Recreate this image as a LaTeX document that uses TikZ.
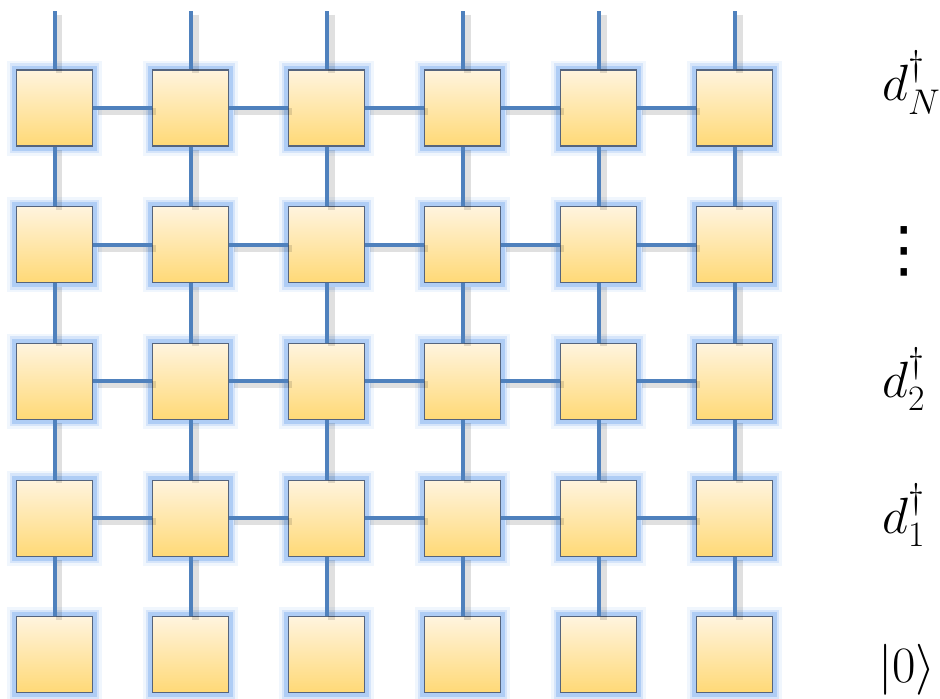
\RequirePackage{fix-cm}
\documentclass[tikz,border=0pt]{standalone}
\usepackage{amsmath,amssymb}
\usepackage{fontspec}
\newfontfamily\dotsfont{DejaVu Sans}
\usepackage{tikz}
\usetikzlibrary{positioning}
\usepackage{xcolor}
\definecolor{wireBlue}{RGB}{79,129,189}
\definecolor{glowBlue}{RGB}{135,180,240}
\definecolor{edgeGray}{RGB}{85,100,125}
\definecolor{gateTop}{RGB}{255,244,222}
\definecolor{gateBottom}{RGB}{255,217,118}

\begin{document}
\begin{tikzpicture}[
  x=0.02cm, y=-0.02cm,
  gate/.style={
    rectangle, draw=edgeGray, line width=0.6pt,
    top color=gateTop, bottom color=gateBottom,
    minimum size=1.52cm, inner sep=0pt,
    preaction={draw=glowBlue, line width=0.38cm, opacity=0.12,
      rounded corners=8pt},
    preaction={draw=glowBlue, line width=0.28cm, opacity=0.25,
      rounded corners=5pt},
    preaction={draw=glowBlue, line width=0.18cm, opacity=0.5,
      rounded corners=3pt}
  },
  wire/.style={draw=wireBlue, line width=0.08cm},
  wireshade/.style={draw=black, line width=0.14cm, opacity=0.12,
    transform canvas={shift={(0.09cm,-0.07cm)}}},
  lbl/.style={font=\fontsize{29}{34}\selectfont}
]
  \useasboundingbox (0,0) rectangle (940,698);

  % gates, row 1 on top
  \foreach \r in {1,...,5}
    \foreach \c in {1,...,6}
      \node[gate] (g\r\c) at ({54.5+136*(\c-1)},{108+136.7*(\r-1)}) {};

  % free ends of the top wires
  \foreach \c in {1,...,6}
    \coordinate (t\c) at ({54.5+136*(\c-1)},11);

  % shadows under the wires
  \foreach \c in {1,...,6} {
    \draw[wireshade] (t\c) -- (g1\c);
    \foreach \r [count=\n from 2] in {1,...,4}
      \draw[wireshade] (g\r\c) -- (g\n\c);
  }
  \foreach \r in {1,...,4}
    \foreach \c [count=\n from 2] in {1,...,5}
      \draw[wireshade] (g\r\c) -- (g\r\n);

  % wires
  \foreach \c in {1,...,6} {
    \draw[wire] (t\c) -- (g1\c);
    \foreach \r [count=\n from 2] in {1,...,4}
      \draw[wire] (g\r\c) -- (g\n\c);
  }
  \foreach \r in {1,...,4}
    \foreach \c [count=\n from 2] in {1,...,5}
      \draw[wire] (g\r\c) -- (g\r\n);

  % labels
  \node[lbl, anchor=base west] (dN) at (876,100) {$d_N^{\dagger}$};
  \node[font=\dotsfont\fontsize{35}{35}\selectfont] (dots) at (904,251) {⋮};
  \node[lbl, anchor=base west] (d2) at (876,397) {$d_2^{\dagger}$};
  \node[lbl, anchor=base west] (d1) at (876,533) {$d_1^{\dagger}$};
  \node[lbl, anchor=base west] (vac) at (872,682) {$|0\rangle$};
\end{tikzpicture}
\end{document}
